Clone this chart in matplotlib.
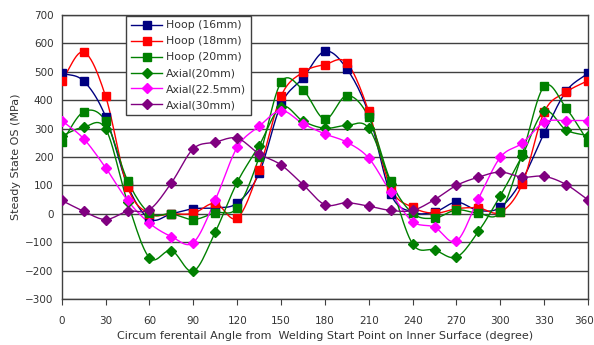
import numpy as np
import matplotlib
matplotlib.use("Agg")
import matplotlib.pyplot as plt
from matplotlib.transforms import ScaledTranslation

# Values
angles = list(range(0, 361, 15))
hoop_16 = [495, 467, 342, 100, -18, 0, 18, 21, 38, 143, 385, 478, 572, 510, 352, 70,
           6, 6, 41, 12, 23, 120, 284, 431, 495]
hoop_18 = [469, 569, 413, 94, 0, 0, 2, 37, -15, 155, 414, 498, 525, 531, 360, 91,
           23, 2, 18, 21, 6, 105, 358, 428, 469]
hoop_20 = [252, 359, 326, 117, 2, 0, -20, 4, 21, 199, 463, 436, 333, 416, 340, 115,
           2, -15, 14, 2, 6, 211, 449, 372, 254]
axial_20 = [275, 305, 299, 41, -155, -129, -202, -64, 111, 240, 377, 326, 301, 311, 301, 105,
            -106, -127, -152, -62, 64, 205, 360, 295, 275]
axial_225 = [328, 264, 162, 47, -33, -80, -101, 49, 234, 308, 363, 317, 281, 252, 196, 76,
             -27, -47, -96, 53, 199, 249, 322, 328, 328]
axial_30 = [47, 9, -20, 9, 15, 109, 229, 252, 266, 211, 172, 103, 32, 39, 27, 12,
            12, 50, 100, 129, 147, 129, 132, 103, 49]

series = [
    ("Hoop (16mm)", hoop_16, "#000080", "s"),
    ("Hoop (18mm)", hoop_18, "#FF0000", "s"),
    ("Hoop (20mm)", hoop_20, "#008000", "s"),
    ("Axial(20mm)", axial_20, "#008000", "D"),
    ("Axial(22.5mm)", axial_225, "#FF00FF", "D"),
    ("Axial(30mm)", axial_30, "#800080", "D"),
]


def smooth(x, y, n=12):
    # Catmull-Rom curve through the points, like a smoothed spreadsheet line
    x = np.asarray(x, float)
    y = np.asarray(y, float)
    px = np.concatenate([[2 * x[0] - x[1]], x, [2 * x[-1] - x[-2]]])
    py = np.concatenate([[2 * y[0] - y[1]], y, [2 * y[-1] - y[-2]]])
    xs, ys = [], []
    t = np.linspace(0, 1, n, endpoint=False)
    for i in range(1, len(px) - 2):
        for arr, out in ((px, xs), (py, ys)):
            p0, p1, p2, p3 = arr[i - 1], arr[i], arr[i + 1], arr[i + 2]
            out.extend(0.5 * (2 * p1 + (-p0 + p2) * t
                              + (2 * p0 - 5 * p1 + 4 * p2 - p3) * t ** 2
                              + (-p0 + 3 * p1 - 3 * p2 + p3) * t ** 3))
    xs.append(x[-1])
    ys.append(y[-1])
    return xs, ys


fig = plt.figure(figsize=(5.94, 3.45), dpi=100)
ax = fig.add_axes([0.104, 0.133, 0.886, 0.824])

for label, vals, color, marker in series:
    ms = 5.2 if marker == "s" else 5.0
    sx, sy = smooth(angles, vals)
    ax.plot(sx, sy, color=color, lw=1.0, zorder=2)
    ax.plot(angles, vals, color=color, marker=marker, ms=ms,
            linestyle="none", zorder=3)
    ax.plot([], [], color=color, lw=1.0, marker=marker, ms=ms, label=label)

ax.set_xlim(0, 360)
ax.set_ylim(-300, 700)
ax.set_xticks(range(0, 361, 30))
ax.set_yticks(range(-300, 701, 100))
ax.yaxis.grid(True, color="#404040", lw=1.0)
ax.set_axisbelow(True)
ax.tick_params(axis="x", direction="out", length=4, colors="#404040",
               labelsize=7.5, labelcolor="#333333", pad=8)
ax.tick_params(axis="y", length=0, labelsize=7.5, labelcolor="#333333", pad=6)
for s in ax.spines.values():
    s.set_color("#404040")
    s.set_linewidth(1.0)

# keep the last tick label inside the picture
last = ax.get_xticklabels()[-1]
last.set_transform(last.get_transform() + ScaledTranslation(-4 / 100, 0, fig.dpi_scale_trans))

ax.set_xlabel("Circum ferentail Angle from  Welding Start Point on Inner Surface (degree)",
              fontsize=8, color="#333333", labelpad=4)
ax.set_ylabel("Steady State OS (MPa)", fontsize=8, color="#333333")
ax.yaxis.set_label_coords(-0.078, 0.5)

leg = ax.legend(loc="upper left", bbox_to_anchor=(0.118, 1.005), fontsize=7.8,
                frameon=True, fancybox=False, borderpad=0.45, labelspacing=0.55,
                handlelength=2.9, handletextpad=0.35, borderaxespad=0.2)
leg.get_frame().set_edgecolor("#404040")
leg.get_frame().set_linewidth(1.0)
leg.get_frame().set_alpha(1.0)
for t in leg.get_texts():
    t.set_color("#333333")

fig.savefig("out.png", dpi=100)
